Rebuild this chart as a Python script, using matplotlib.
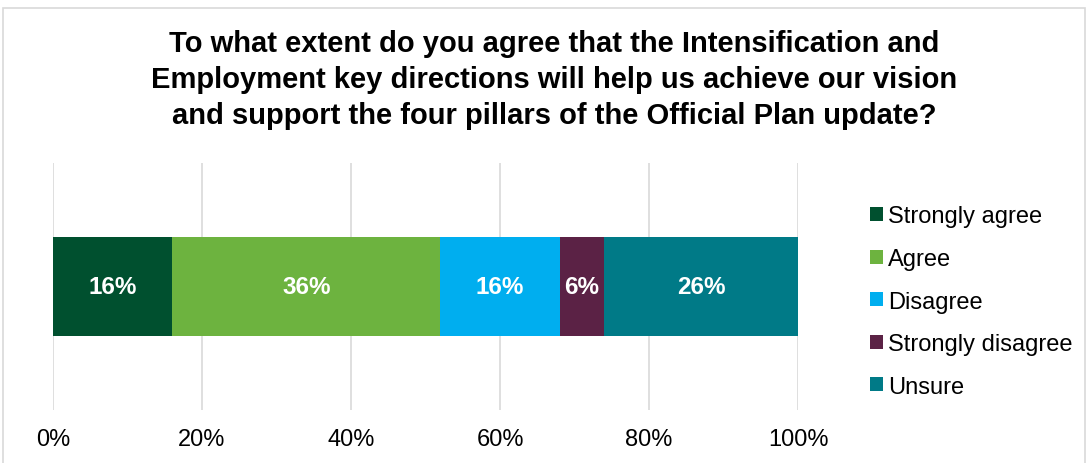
import matplotlib
matplotlib.use("Agg")
import matplotlib.pyplot as plt
from matplotlib.patches import Rectangle

plt.rcParams['font.family'] = ['Liberation Sans', 'DejaVu Sans']

categories = ["Strongly agree", "Agree", "Disagree", "Strongly disagree", "Unsure"]
values = [16, 36, 16, 6, 26]
colors = ["#00502F", "#6DB33F", "#00AEEF", "#5B2245", "#007A87"]
ticks = [0, 20, 40, 60, 80, 100]
tick_labels = ["0%", "20%", "40%", "60%", "80%", "100%"]
title = ("To what extent do you agree that the Intensification and\n"
         "Employment key directions will help us achieve our vision\n"
         "and support the four pillars of the Official Plan update?")

W, H = 1088, 464
fig = plt.figure(figsize=(W/100, H/100), dpi=100)
fig.patches.append(Rectangle((3/W, -0.1), (1085-3)/W, 1.1 - 9/H,
                             transform=fig.transFigure, fill=False,
                             edgecolor="#D9D9D9", linewidth=1.2))

ax = fig.add_axes([53/W, 1-411/H, (798-53)/W, (411-164)/H])
left = 0
for cat, v, c in zip(categories, values, colors):
    ax.barh(0, v, left=left, height=0.4, color=c, label=cat, zorder=3)
    ax.text(left + v/2, 0, f"{v}%", ha="center", va="center", color="white",
            fontsize=17.5, fontweight="bold", zorder=4)
    left += v

ax.set_xlim(0, 100)
ax.set_ylim(-0.5, 0.5)
ax.set_xticks(ticks)
ax.set_xticklabels(tick_labels, fontsize=17)
ax.set_yticks([])
ax.tick_params(axis="x", length=0, pad=13)
ax.grid(axis="x", color="#D9D9D9", linewidth=1.2, zorder=0)
for s in ax.spines.values():
    s.set_visible(False)

fig.text(554/W, 1-80/H, title, ha="center", va="center", fontsize=21,
         fontweight="bold", linespacing=1.36)

fig.legend(loc="upper left", bbox_to_anchor=(861/W, 1-197/H), frameon=False,
           fontsize=17, handlelength=0.54, handleheight=0.54, handletextpad=0.22,
           labelspacing=0.87, borderaxespad=0)

fig.savefig("out.png", dpi=100)
